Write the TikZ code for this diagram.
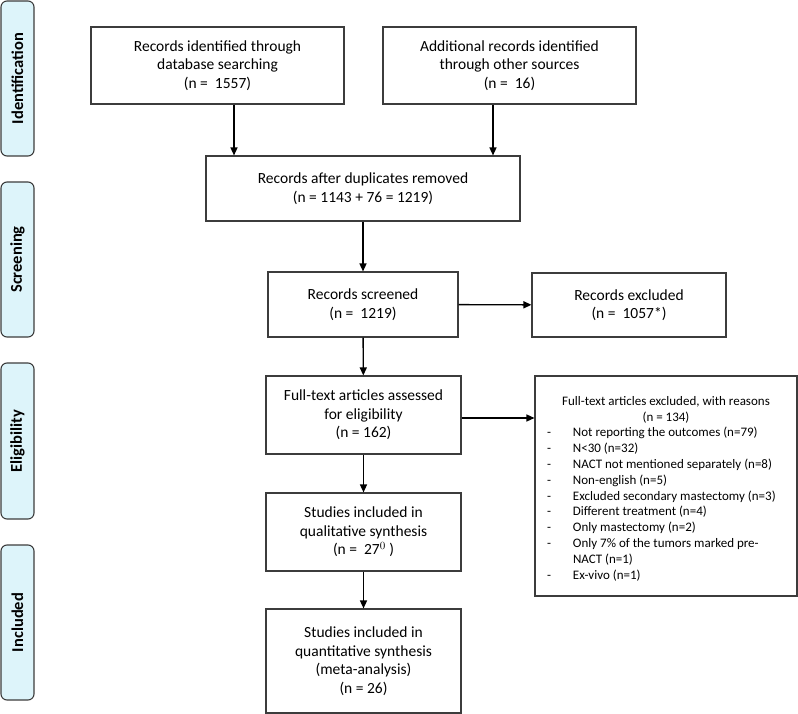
\documentclass[tikz,border=0pt]{standalone}
\usepackage{fontspec}
\setmainfont{Carlito}
\usetikzlibrary{arrows.meta,positioning}
\definecolor{phasefill}{RGB}{221,244,250}
\definecolor{boxline}{RGB}{60,60,60}
\tikzset{>={Triangle[width=7pt,length=8pt]}}

\begin{document}
\begin{tikzpicture}[x=1pt,y=-1pt]
  \tikzstyle{box} = [draw=boxline, line width=1.1pt, inner sep=0pt, align=center,
                     font=\fontsize{15.5}{18.5}\selectfont]
  \tikzstyle{phase} = [draw=boxline, line width=1.1pt, fill=phasefill, rounded corners=6pt,
                       minimum width=33pt, inner sep=0pt]
  \tikzstyle{phasetext} = [rotate=90, font=\fontsize{16.5}{18}\selectfont\bfseries]
  \tikzstyle{arr} = [->, line width=1.4pt]

  \useasboundingbox (0,0) rectangle (798,714);

  % phases on the left
  \node[phase, minimum height=155pt] (pid) at (17.5,78.5) {};
  \node[phase, minimum height=155pt] (psc) at (17.5,259.5) {};
  \node[phase, minimum height=156pt] (pel) at (17.5,441) {};
  \node[phase, minimum height=155pt] (pin) at (17.5,622.5) {};
  \node[phasetext] at (pid) {Identification};
  \node[phasetext] at (psc) {Screening};
  \node[phasetext] at (pel) {Eligibility};
  \node[phasetext] at (pin) {Included};

  % boxes
  \node[box, minimum width=253pt, minimum height=77pt] (db) at (217.5,65.5)
    {Records identified through\\database searching\\(n =\ \ 1557)};
  \node[box, minimum width=253pt, minimum height=77pt] (other) at (509.5,65.5)
    {Additional records identified\\through other sources\\(n =\ \ 16)};
  \node[box, minimum width=314pt, minimum height=65pt] (dup) at (363,188.5)
    {Records after duplicates removed\\(n = 1143 + 76 = 1219)};
  \node[box, minimum width=190pt, minimum height=65pt] (scr) at (363,304.5)
    {Records screened\\(n =\ \ 1219)};
  \node[box, minimum width=194pt, minimum height=64pt] (excl) at (629,305)
    {Records excluded\\(n =\ \ 1057*)};
  \node[box, minimum width=195pt, minimum height=78pt] (full) at (363.5,415)
    {Full-text articles assessed\\for eligibility\\(n = 162)};
  \node[box, minimum width=195pt, minimum height=78pt] (qual) at (363.5,532)
    {Studies included in\\qualitative synthesis\\(n =\ \ 27$^0$ )};
  \node[box, minimum width=195pt, minimum height=104pt] (quant) at (363.5,661)
    {Studies included in\\quantitative synthesis\\(meta-analysis)\\(n = 26)};
  \node[box, align=left, minimum width=262pt, minimum height=220pt,
        font=\fontsize{13}{15.8}\selectfont] (why) at (666,486)
    {\rule{0pt}{14pt}\makebox[262pt][c]{Full-text articles excluded, with reasons}\\
     \makebox[262pt][c]{(n = 134)}\\
     \hspace*{12pt}\makebox[26pt][l]{-}Not reporting the outcomes (n=79)\\
     \hspace*{12pt}\makebox[26pt][l]{-}N<30 (n=32)\\
     \hspace*{12pt}\makebox[26pt][l]{-}NACT not mentioned separately (n=8)\\
     \hspace*{12pt}\makebox[26pt][l]{-}Non-english (n=5)\\
     \hspace*{12pt}\makebox[26pt][l]{-}Excluded secondary mastectomy (n=3)\\
     \hspace*{12pt}\makebox[26pt][l]{-}Different treatment (n=4)\\
     \hspace*{12pt}\makebox[26pt][l]{-}Only mastectomy (n=2)\\
     \hspace*{12pt}\makebox[26pt][l]{-}Only 7\% of the tumors marked pre-\\
     \hspace*{12pt}\makebox[26pt][l]{}NACT (n=1)\\
     \hspace*{12pt}\makebox[26pt][l]{-}Ex-vivo (n=1)};

  % arrows
  \draw[arr] ([xshift=16.5pt]db.south) -- ([xshift=16.5pt]db.south |- dup.north);
  \draw[arr] ([xshift=-16.5pt]other.south) -- ([xshift=-16.5pt]other.south |- dup.north);
  \draw[arr] (dup) -- (scr);
  \draw[arr] (scr) -- (excl);
  \draw[arr] (scr) -- (full);
  \draw[arr] ([yshift=-3pt]full.east) -- ([yshift=-3pt]full.east -| why.west);
  \draw[arr] (full) -- (qual);
  \draw[arr] (qual) -- (quant);
\end{tikzpicture}
\end{document}
